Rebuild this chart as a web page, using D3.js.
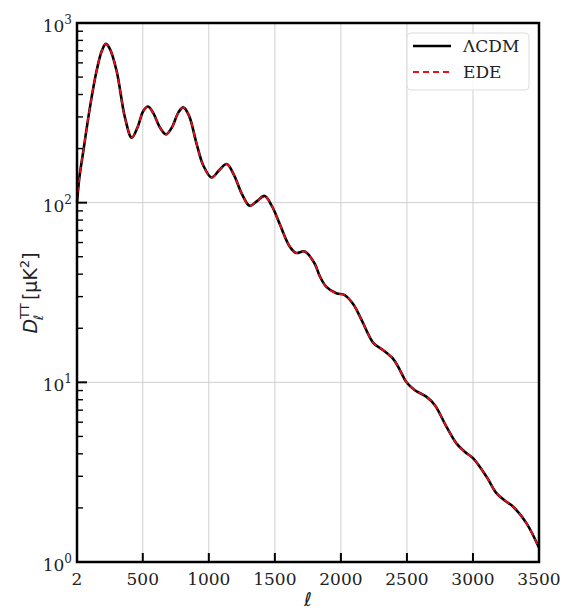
<!DOCTYPE html>
<html>
<head>
<meta charset="utf-8">
<script src="https://cdn.jsdelivr.net/npm/d3@7"></script>
<style>
  body { margin: 0; background: #fff; }
  svg { display: block; }
</style>
</head>
<body>
<div id="chart"></div>
<script>
// multipoles (ell) and D_ell^TT [muK^2]
const ell = [2, 20, 50, 100, 150, 190, 220, 250, 302, 365, 416, 460, 504, 540, 580, 630, 676, 720, 770, 807,
  850, 908, 960, 1021, 1080, 1135, 1190, 1250, 1310, 1365, 1423, 1480, 1537, 1612, 1660, 1726, 1800, 1840, 1890,
  1966, 2029, 2094, 2160, 2245, 2321, 2396, 2447, 2497, 2560, 2649, 2712, 2800, 2876, 2940, 3002, 3103, 3179,
  3240, 3305, 3406, 3500];
const lcdm = [100, 138, 194, 339, 540, 700, 765, 720, 541, 298, 230, 262, 324, 343, 315, 262, 240, 262, 318, 339,
  305, 212, 160, 138, 152, 164, 143, 112, 96, 102, 109, 95, 76, 57, 52.5, 53.5, 46, 39, 34,
  31.3, 30.6, 27.2, 22, 16.6, 15.1, 13.5, 11.7, 10, 9.03, 8.3, 7.46, 5.65, 4.56, 4.1, 3.77, 2.98, 2.41,
  2.2, 2.03, 1.64, 1.2];
const ede = [100, 138, 194, 339, 540, 700, 765, 720, 541, 298, 230, 262, 324, 343, 315, 262, 240, 262, 318, 339,
  305, 212, 160, 138, 152, 164, 143, 112, 96, 102, 109, 95, 76, 57, 52.5, 53.5, 46, 39, 34,
  31.3, 30.6, 27.2, 22, 16.6, 15.1, 13.5, 11.7, 10, 9.03, 8.3, 7.46, 5.65, 4.56, 4.1, 3.77, 2.98, 2.41,
  2.2, 2.03, 1.64, 1.2];

const xTicks = [2, 500, 1000, 1500, 2000, 2500, 3000, 3500];
const yTicks = [1, 10, 100, 1000];
const legendLabels = ["\u039BCDM", "EDE"];

const W = 574, H = 615;
const margin = { top: 23, right: 35, bottom: 53, left: 77 };
const width = W - margin.left - margin.right,
    height = H - margin.top - margin.bottom;

const serif = "'DejaVu Serif', serif";
const sans = "'DejaVu Sans', sans-serif";

const x = d3.scaleLinear().domain([2, 3500]).range([0, width]);
const y = d3.scaleLog().domain([1, 1000]).range([height, 0]);

const svg = d3.select("#chart").append("svg")
    .attr("width", W)
    .attr("height", H);

const g = svg.append("g")
    .attr("transform", "translate(" + margin.left + "," + margin.top + ")");

// grid
g.append("g").selectAll("line")
    .data(xTicks.slice(1, -1))
    .enter().append("line")
    .attr("x1", d => x(d)).attr("x2", d => x(d))
    .attr("y1", 0).attr("y2", height)
    .attr("stroke", "#cfcfcf").attr("stroke-width", 1);

g.append("g").selectAll("line")
    .data(yTicks.slice(1, -1))
    .enter().append("line")
    .attr("x1", 0).attr("x2", width)
    .attr("y1", d => y(d)).attr("y2", d => y(d))
    .attr("stroke", "#cfcfcf").attr("stroke-width", 1);

// curves
const pts = (vals) => ell.map((l, i) => [l, vals[i]]);
const line = d3.line()
    .x(d => x(d[0]))
    .y(d => y(d[1]))
    .curve(d3.curveCatmullRom.alpha(0.5));

g.append("path")
    .datum(pts(lcdm))
    .attr("d", line)
    .attr("fill", "none")
    .attr("stroke", "#000")
    .attr("stroke-width", 2.6);

g.append("path")
    .datum(pts(ede))
    .attr("d", line)
    .attr("fill", "none")
    .attr("stroke", "#e8101c")
    .attr("stroke-width", 1.8)
    .attr("stroke-dasharray", "6,4");

// minor ticks on the log axis (inward)
const minor = [];
[1, 10, 100].forEach(dec => { for (let k = 2; k <= 9; k++) minor.push(dec * k); });
g.append("g").selectAll("line")
    .data(minor)
    .enter().append("line")
    .attr("x1", 0).attr("x2", 6)
    .attr("y1", d => y(d)).attr("y2", d => y(d))
    .attr("stroke", "#000").attr("stroke-width", 1.4);

// major y ticks
g.append("g").selectAll("line")
    .data(yTicks)
    .enter().append("line")
    .attr("x1", 0).attr("x2", 10)
    .attr("y1", d => y(d)).attr("y2", d => y(d))
    .attr("stroke", "#000").attr("stroke-width", 2);

// major x ticks
g.append("g").selectAll("line")
    .data(xTicks)
    .enter().append("line")
    .attr("x1", d => x(d)).attr("x2", d => x(d))
    .attr("y1", height).attr("y2", height - 9)
    .attr("stroke", "#000").attr("stroke-width", 2);

// frame
g.append("rect")
    .attr("width", width).attr("height", height)
    .attr("fill", "none")
    .attr("stroke", "#000")
    .attr("stroke-width", 2.5);

// x tick labels
g.append("g").selectAll("text")
    .data(xTicks)
    .enter().append("text")
    .attr("x", d => x(d))
    .attr("y", height + 23)
    .attr("text-anchor", "middle")
    .attr("font-family", serif)
    .attr("font-size", 17)
    .attr("fill", "#222")
    .text(d => d);

// y tick labels 10^n
const yl = g.append("g").selectAll("text")
    .data(yTicks)
    .enter().append("text")
    .attr("x", -5)
    .attr("y", d => y(d) + 9)
    .attr("text-anchor", "end")
    .attr("font-family", serif)
    .attr("font-size", 17)
    .attr("fill", "#222");
yl.append("tspan").text("10");
yl.append("tspan").attr("dy", -8).attr("font-size", 12).text(d => Math.round(Math.log10(d)));

// axis labels
svg.append("text")
    .attr("x", margin.left + width / 2)
    .attr("y", H - 9)
    .attr("text-anchor", "middle")
    .attr("font-family", sans)
    .attr("font-style", "italic")
    .attr("font-size", 19)
    .attr("fill", "#222")
    .text("\u2113");

const ylab = svg.append("text")
    .attr("transform", "translate(37,293) rotate(-90)")
    .attr("text-anchor", "middle")
    .attr("font-family", sans)
    .attr("font-size", 19)
    .attr("fill", "#222");
ylab.append("tspan").attr("font-style", "italic").text("D");
ylab.append("tspan").attr("dy", -8).attr("font-size", 13).text("TT");
ylab.append("tspan").attr("dx", -17).attr("dy", 14).attr("font-size", 13).attr("font-style", "italic").text("\u2113");
ylab.append("tspan").attr("dx", 11).attr("dy", -6).text("\u2009[\u03BCK");
ylab.append("tspan").attr("dy", -8).attr("font-size", 13).text("2");
ylab.append("tspan").attr("dy", 8).text("]");

// legend
const leg = svg.append("g").attr("transform", "translate(407,33)");
leg.append("rect")
    .attr("width", 122).attr("height", 57)
    .attr("rx", 4)
    .attr("fill", "#fff").attr("fill-opacity", 0.85)
    .attr("stroke", "#ddd");
const styles = [
  { color: "#000", dash: null, w: 2.4 },
  { color: "#e8101c", dash: "6,4", w: 2 }
];
legendLabels.forEach((lab, i) => {
  const yy = 13 + i * 26;
  leg.append("line")
      .attr("x1", 6).attr("x2", 44)
      .attr("y1", yy).attr("y2", yy)
      .attr("stroke", styles[i].color)
      .attr("stroke-width", styles[i].w)
      .attr("stroke-dasharray", styles[i].dash);
  leg.append("text")
      .attr("x", 56).attr("y", yy + 6)
      .attr("font-family", serif)
      .attr("font-size", 17)
      .attr("fill", "#222")
      .text(lab);
});
</script>
</body>
</html>
